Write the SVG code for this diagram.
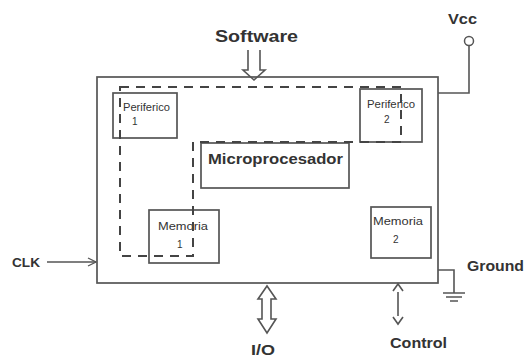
<svg xmlns="http://www.w3.org/2000/svg" width="524" height="360" viewBox="0 0 524 360">
<style>
.b{fill:#fff;stroke:#555;stroke-width:1.7}
.l{fill:none;stroke:#555;stroke-width:1.6}
.d{fill:none;stroke:#444;stroke-width:2;stroke-dasharray:9,7}
.t{font-family:"Liberation Sans",Arial,sans-serif;font-weight:bold;fill:#333}
.s{font-family:"Liberation Sans",Arial,sans-serif;fill:#333;font-size:10px}
</style>
<defs>
<marker id="ah" markerWidth="10" markerHeight="10" refX="9" refY="5" orient="auto" markerUnits="userSpaceOnUse">
<path d="M1,1 L9,5 L1,9" fill="none" stroke="#555" stroke-width="1.3"/>
</marker>
</defs>
<rect width="524" height="360" fill="#fff"/>
<g id="main"><rect class="b" x="97" y="77" width="341" height="206"/></g>
<g id="periferico1"><rect class="b" x="113" y="93" width="64" height="45"/><text class="s" x="123" y="111" textLength="47" lengthAdjust="spacingAndGlyphs">Periferico</text><text class="s" x="132" y="125">1</text></g>
<g id="periferico2"><rect class="b" x="360" y="89" width="62" height="53"/><text class="s" x="367" y="108" textLength="48" lengthAdjust="spacingAndGlyphs">Periferico</text><text class="s" x="384" y="123">2</text></g>
<g id="micro"><rect class="b" x="201" y="143" width="148" height="45"/><text class="t" x="208" y="164" font-size="14" textLength="135" lengthAdjust="spacingAndGlyphs">Microprocesador</text></g>
<g id="memoria1"><rect class="b" x="149" y="210" width="70" height="53"/><text class="s" x="158" y="230" textLength="50" lengthAdjust="spacingAndGlyphs">Memoria</text><text class="s" x="177" y="248">1</text></g>
<g id="memoria2"><rect class="b" x="371" y="207" width="60" height="51"/><text class="s" x="373" y="225" textLength="50" lengthAdjust="spacingAndGlyphs">Memoria</text><text class="s" x="393" y="243">2</text></g>
<g id="connectors">
<path class="d" d="M120,87 H401 V142 H193 V256 H120 Z"/>
<path class="l" d="M248,50 V70 H243 L254,80 L265,70 H260 V50"/>
<path class="l" d="M262,299 V319 H258 L267,333 L276,319 H271 V299 H276 L267,286 L258,299 Z"/>
<line class="l" x1="47" y1="262" x2="96" y2="262" marker-end="url(#ah)"/>
<line class="l" x1="398" y1="292" x2="398" y2="316"/>
<path class="l" d="M393,291 L398,284 L403,291 M393,317 L398,324 L403,317"/>
<path class="l" d="M438,93 H469 V45"/>
<circle cx="469" cy="41" r="4.5" fill="#fff" stroke="#555" stroke-width="1.5"/>
<path class="l" d="M438,270 H454 V293 M443,293 H465 M446,297 H462 M450,301 H458"/>
</g>
<g id="labels">
<text class="t" x="215" y="42" font-size="16" textLength="83" lengthAdjust="spacingAndGlyphs">Software</text>
<text class="t" x="448" y="24" font-size="14" textLength="29" lengthAdjust="spacingAndGlyphs">Vcc</text>
<text class="t" x="467" y="271" font-size="14" textLength="57" lengthAdjust="spacingAndGlyphs">Ground</text>
<text class="t" x="12" y="267" font-size="12" textLength="28" lengthAdjust="spacingAndGlyphs">CLK</text>
<text class="t" x="251" y="355" font-size="15" textLength="24" lengthAdjust="spacingAndGlyphs">I/O</text>
<text class="t" x="390" y="348" font-size="14" textLength="57" lengthAdjust="spacingAndGlyphs">Control</text>
</g>
</svg>
